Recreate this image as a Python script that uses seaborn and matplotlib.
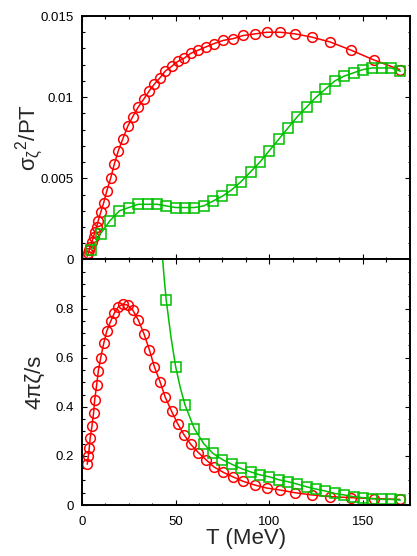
import matplotlib
matplotlib.use("Agg")
import matplotlib.pyplot as plt
import seaborn as sns
from matplotlib.ticker import MultipleLocator, FuncFormatter

# red circles (same temperatures in both panels)
T_red = [2.8, 3.4, 3.9, 4.4, 5.3, 6.2, 6.8, 7.8, 8.7, 10.0, 11.6, 13.2, 15.3, 17.3,
         19.4, 21.7, 24.4, 27.1, 30.1, 33.1, 36.0, 38.6, 41.7, 44.4, 47.9, 51.1,
         54.5, 58.1, 62.2, 66.3, 70.5, 75.5, 80.5, 86.2, 92.5, 98.7, 105.8, 113.8,
         122.7, 132.5, 143.6, 155.7, 169.6]
sig_red = [0.0002, 0.0004, 0.0006, 0.0008, 0.0011, 0.0014, 0.0017, 0.0020, 0.0024,
           0.0029, 0.0035, 0.0042, 0.0050, 0.0059, 0.0067, 0.0074, 0.0082, 0.0088,
           0.0094, 0.0099, 0.0104, 0.0108, 0.0112, 0.0116, 0.0119, 0.0122, 0.0124,
           0.0127, 0.0129, 0.0131, 0.0133, 0.0135, 0.0136, 0.0138, 0.0139, 0.0140,
           0.0140, 0.0139, 0.0137, 0.0134, 0.0129, 0.0123, 0.0117]
zeta_red = [0.166, 0.199, 0.234, 0.274, 0.320, 0.375, 0.429, 0.487, 0.545, 0.600,
            0.658, 0.707, 0.748, 0.782, 0.807, 0.818, 0.814, 0.794, 0.753, 0.697,
            0.632, 0.564, 0.502, 0.440, 0.381, 0.331, 0.286, 0.247, 0.213, 0.184,
            0.155, 0.133, 0.115, 0.096, 0.081, 0.069, 0.061, 0.050, 0.041, 0.034,
            0.030, 0.026, 0.023]

# green squares, top panel
T_green_top = [5, 10, 15, 20, 25, 30, 35, 40, 45, 50, 55, 60, 65, 70, 75, 80, 85,
               90, 95, 100, 105, 110, 115, 120, 125, 130, 135, 140, 145, 150, 155,
               160, 165, 170]
sig_green = [0.0006, 0.0016, 0.0024, 0.0030, 0.0032, 0.0034, 0.0034, 0.0034, 0.0033,
             0.0032, 0.0032, 0.0032, 0.0033, 0.0036, 0.0039, 0.0043, 0.0048, 0.0054,
             0.0060, 0.0067, 0.0074, 0.0081, 0.0088, 0.0094, 0.0100, 0.0105, 0.0110,
             0.0113, 0.0115, 0.0117, 0.0118, 0.0118, 0.0118, 0.0116]

# green squares, bottom panel
T_green_bot = [45, 50, 55, 60, 65, 70, 75, 80, 85, 90, 95, 100, 105, 110, 115, 120,
               125, 130, 135, 140, 145, 150, 155, 160, 165, 170]
zeta_green = [0.834, 0.564, 0.408, 0.311, 0.250, 0.210, 0.185, 0.166, 0.149, 0.135,
              0.123, 0.115, 0.103, 0.095, 0.085, 0.074, 0.065, 0.057, 0.047, 0.041,
              0.034, 0.030, 0.026, 0.023, 0.023, 0.020]
# fitted curve continues above the first square
T_green_tail = [42.6, 43.5, 44.3, 47.5, 52.5]
zeta_green_tail = [1.05, 0.96, 0.89, 0.685, 0.478]

RED = "#ff0000"
GREEN = "#00c000"

sns.set_theme(style="ticks")
plt.rcParams["font.family"] = ["Liberation Sans", "DejaVu Sans"]
plt.rcParams["mathtext.fontset"] = "custom"
plt.rcParams["mathtext.rm"] = "Liberation Sans"
plt.rcParams["mathtext.it"] = "Liberation Sans"

fig = plt.figure(figsize=(4.17, 5.56), dpi=100)
ax1 = fig.add_axes([0.1966, 0.5333, 0.7859, 0.4379])
ax2 = fig.add_axes([0.1966, 0.0917, 0.7859, 0.4416])

mk = dict(markersize=7, markerfacecolor="none", markeredgewidth=1.1, linewidth=1.1)

sns.lineplot(x=T_red, y=sig_red, ax=ax1, color=RED, marker="o", markeredgecolor=RED, **mk)
sns.lineplot(x=T_green_top, y=sig_green, ax=ax1, color=GREEN, marker="s",
             markeredgecolor=GREEN, **mk)

sns.lineplot(x=T_red, y=zeta_red, ax=ax2, color=RED, marker="o", markeredgecolor=RED, **mk)
line_T = T_green_tail + T_green_bot
line_z = zeta_green_tail + zeta_green
sns.lineplot(x=line_T, y=line_z, ax=ax2, color=GREEN, linewidth=1.1)
sns.lineplot(x=T_green_bot, y=zeta_green, ax=ax2, color=GREEN, marker="s",
             markeredgecolor=GREEN, markersize=7, markerfacecolor="none",
             markeredgewidth=1.1, linestyle="none")

fmt = FuncFormatter(lambda v, p: "%g" % round(v, 6))
for ax in (ax1, ax2):
    ax.set_xlim(0, 175)
    ax.xaxis.set_major_locator(MultipleLocator(50))
    ax.xaxis.set_minor_locator(MultipleLocator(12.5))
    ax.tick_params(which="both", direction="in", top=True, right=True,
                   colors="black", labelsize=9.5, width=0.8)
    ax.tick_params(which="major", length=3.5, pad=6)
    ax.tick_params(which="minor", length=1.8)
    ax.yaxis.set_major_formatter(fmt)
    for s in ax.spines.values():
        s.set_linewidth(1.4)
        s.set_color("black")

ax1.set_ylim(0, 0.015)
ax1.yaxis.set_major_locator(MultipleLocator(0.005))
ax1.yaxis.set_minor_locator(MultipleLocator(0.001))
ax1.tick_params(axis="x", labelbottom=False)
ax1.set_xlabel("")
ax1.set_ylabel(r"$\mathregular{σ_{ζ}{}^{2}/PT}$", fontsize=16)
ax1.yaxis.set_label_coords(-0.11, 0.5)

ax2.set_ylim(0, 1.0)
ax2.set_yticks([0, 0.2, 0.4, 0.6, 0.8])
ax2.yaxis.set_minor_locator(MultipleLocator(0.05))
ax2.tick_params(axis="x", pad=8)
ax2.set_xlabel("T (MeV)", fontsize=16, labelpad=0)
ax2.set_ylabel("4πζ/s", fontsize=16)
ax2.yaxis.set_label_coords(-0.11, 0.5)

plt.savefig("out.png", dpi=100)
